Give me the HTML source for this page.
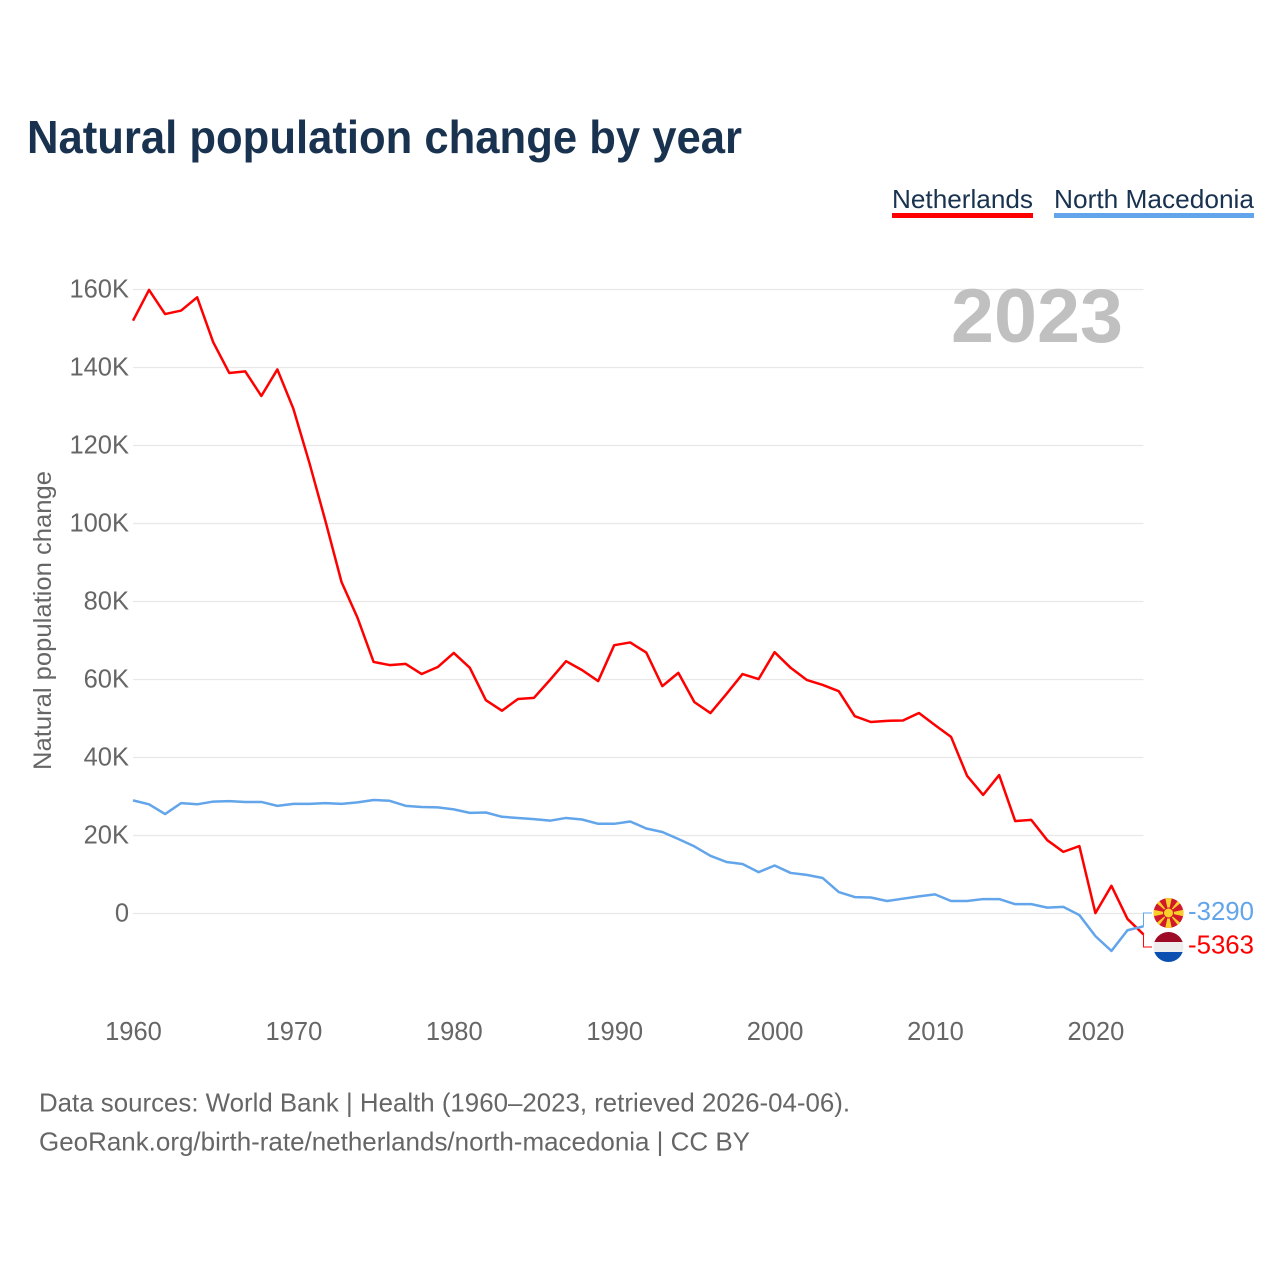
<!DOCTYPE html>
<html lang="en">
<head>
<meta charset="utf-8">
<title>Natural population change by year</title>
<style>
html,body{margin:0;padding:0;background:#fff;width:1280px;height:1280px;overflow:hidden}
svg{display:block;font-family:"Liberation Sans",sans-serif}
</style>
</head>
<body>
<svg id="chart" width="1280" height="1280" viewBox="0 0 1280 1280" xmlns="http://www.w3.org/2000/svg">
  <defs>
    <clipPath id="mk-clip"><circle cx="1168.5" cy="913" r="15"/></clipPath>
    <clipPath id="nl-clip"><circle cx="1168.5" cy="947" r="15"/></clipPath>
  </defs>
  <text x="27" y="153" font-size="46" font-weight="700" fill="#18324f" textLength="715" lengthAdjust="spacingAndGlyphs">Natural population change by year</text>

  <g>
    <g>
      <text x="892" y="208" font-size="26" fill="#18324f" textLength="141" lengthAdjust="spacingAndGlyphs">Netherlands</text>
      <rect x="892" y="213" width="141" height="5" fill="#ff0000"/>
    </g>
    <g>
      <text x="1054" y="208" font-size="26" fill="#18324f" textLength="200" lengthAdjust="spacingAndGlyphs">North Macedonia</text>
      <rect x="1054" y="213" width="200" height="5" fill="#62a5ea"/>
    </g>
  </g>

  <g id="grid"></g>
  <g id="y-ticks"></g>
  <g id="x-ticks"></g>

  <text x="951" y="342" font-size="76" font-weight="700" fill="#c0c0c0" textLength="172" lengthAdjust="spacingAndGlyphs">2023</text>

  <text transform="translate(51,770) rotate(-90)" x="0" y="0" font-size="25" fill="#666666" textLength="299" lengthAdjust="spacingAndGlyphs">Natural population change</text>

  <g id="series"></g>

  <g clip-path="url(#mk-clip)">
    <circle cx="1168.5" cy="913" r="15" fill="#d2182c"/>
    <g fill="#f9d02a">
      <polygon points="1168.5,913 1165,897 1172,897"/>
      <polygon points="1168.5,913 1165,929 1172,929"/>
      <polygon points="1168.5,913 1152.5,909.5 1152.5,916.5"/>
      <polygon points="1168.5,913 1184.5,909.5 1184.5,916.5"/>
      <polygon points="1168.5,913 1154,901 1157,898"/>
      <polygon points="1168.5,913 1183,901 1180,898"/>
      <polygon points="1168.5,913 1154,925 1157,928"/>
      <polygon points="1168.5,913 1183,925 1180,928"/>
    </g>
    <circle cx="1168.5" cy="913" r="5" fill="#f9d02a" stroke="#d2182c" stroke-width="1"/>
  </g>
  <g clip-path="url(#nl-clip)">
    <rect x="1153" y="932" width="31" height="10" fill="#9e0b26"/>
    <rect x="1153" y="942" width="31" height="10" fill="#eeeeee"/>
    <rect x="1153" y="952" width="31" height="10" fill="#0b4fb0"/>
  </g>

  <text x="1188" y="920" font-size="26" fill="#62a5ea" textLength="66" lengthAdjust="spacingAndGlyphs">-3290</text>
  <text x="1188" y="953.5" font-size="26" fill="#ff0000" textLength="66" lengthAdjust="spacingAndGlyphs">-5363</text>

  <text x="39" y="1111.5" font-size="26" fill="#666666" textLength="811" lengthAdjust="spacingAndGlyphs">Data sources: World Bank | Health (1960–2023, retrieved 2026-04-06).</text>
  <text x="39" y="1150.5" font-size="26" fill="#666666" textLength="711" lengthAdjust="spacingAndGlyphs">GeoRank.org/birth-rate/netherlands/north-macedonia | CC BY</text>
</svg>
<script>
var startYear = 1960;
var netherlands = [152,159.9,153.7,154.6,158,146.5,138.6,139,132.7,139.5,129.4,115.5,100.6,85,75.8,64.5,63.7,64,61.4,63.2,66.8,63,54.7,52,55,55.3,59.9,64.7,62.4,59.6,68.8,69.5,66.9,58.3,61.7,54.2,51.4,56.3,61.4,60.1,67,63,59.9,58.6,57,50.6,49.1,49.4,49.5,51.4,48.3,45.3,35.3,30.4,35.5,23.7,24,18.8,15.8,17.3,0.1,7.1,-1.4,-5.363];
var northMacedonia = [29,28,25.5,28.3,28,28.7,28.8,28.6,28.6,27.6,28.1,28.1,28.3,28.1,28.5,29.1,28.9,27.6,27.3,27.2,26.7,25.8,25.9,24.8,24.5,24.2,23.8,24.5,24.1,23,23,23.6,21.8,20.9,19.1,17.2,14.8,13.2,12.7,10.6,12.3,10.4,9.9,9.1,5.5,4.2,4.1,3.2,3.8,4.4,4.9,3.2,3.2,3.7,3.7,2.4,2.4,1.5,1.7,-0.4,-5.8,-9.6,-4.3,-3.29];
var yTickValues = [0,20,40,60,80,100,120,140,160];
var yTickLabels = ['0','20K','40K','60K','80K','100K','120K','140K','160K'];
var xTickYears = [1960,1970,1980,1990,2000,2010,2020];

var NS = 'http://www.w3.org/2000/svg';
function xScale(year){ return 133 + (year - 1960) * 16.04; }
function yScale(v){ return 913.5 - v * 3.9; }
function make(parent, tag, attrs){
  var el = document.createElementNS(NS, tag);
  for (var k in attrs) el.setAttribute(k, attrs[k]);
  parent.appendChild(el);
  return el;
}

var gridG = document.getElementById('grid');
var yG = document.getElementById('y-ticks');
yTickValues.forEach(function(v, i){
  var line = make(gridG, 'line', {x1: 133, x2: 1143.5, y1: yScale(v), y2: yScale(v), stroke: '#e8e8e8', 'stroke-width': 1.2});
  
  
  var t = make(yG, 'text', {x: 129, y: yScale(v) + 8, 'text-anchor': 'end', 'font-size': 25.5, fill: '#666666'});
  
  
  t.textContent = yTickLabels[i];
});

var xG = document.getElementById('x-ticks');
xTickYears.forEach(function(y){
  var t = make(xG, 'text', {x: xScale(y) + 0.5, y: 1040, 'text-anchor': 'middle', 'font-size': 25.5, fill: '#666666'});
  
  
  t.textContent = y;
});

var sG = document.getElementById('series');
function pathFor(values){
  return values.map(function(v, i){
    return (i ? 'L' : 'M') + xScale(startYear + i).toFixed(2) + ' ' + yScale(v).toFixed(2);
  }).join(' ');
}
function connector(values, labelY){
  var ex = xScale(startYear + values.length - 1);
  var ey = yScale(values[values.length - 1]);
  return 'M' + ex.toFixed(2) + ' ' + ey.toFixed(2) + ' V' + labelY + ' H1152';
}

var nlLine = make(sG, 'path', {d: pathFor(netherlands), fill: 'none', stroke: '#ff0000', 'stroke-width': 2.5, 'stroke-linejoin': 'round'});



var mkLine = make(sG, 'path', {d: pathFor(northMacedonia), fill: 'none', stroke: '#62a5ea', 'stroke-width': 2.5, 'stroke-linejoin': 'round'});



var mkConn = make(sG, 'path', {d: connector(northMacedonia, 913), fill: 'none', stroke: '#62a5ea', 'stroke-width': 1});



var nlConn = make(sG, 'path', {d: connector(netherlands, 947), fill: 'none', stroke: '#ff0000', 'stroke-width': 1});


</script>
</body>
</html>
